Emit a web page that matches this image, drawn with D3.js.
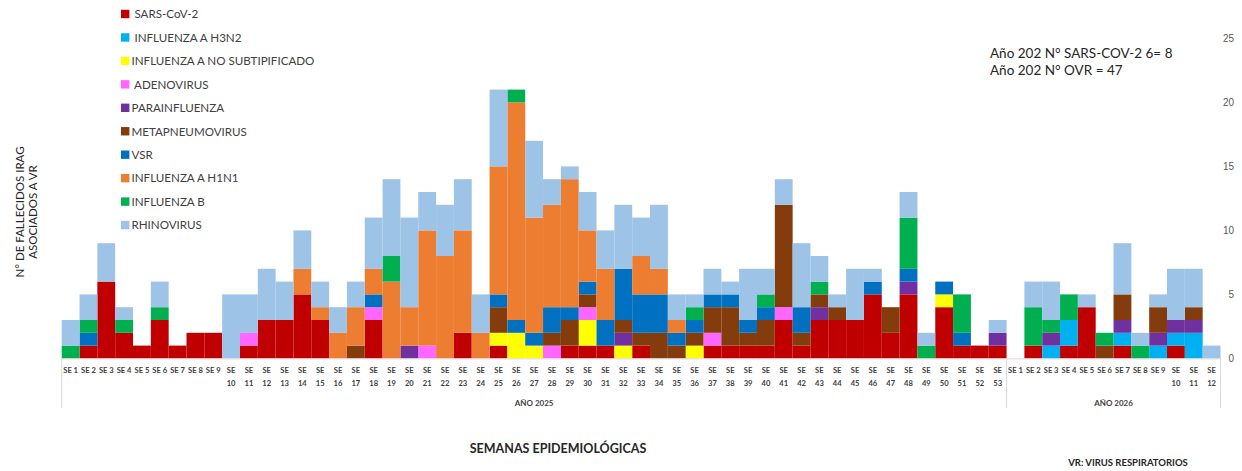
<!DOCTYPE html>
<html>
<head>
<meta charset="utf-8">
<script src="https://cdn.jsdelivr.net/npm/d3@7"></script>
<style>
  html, body { margin: 0; padding: 0; background: #fff; }
  svg { display: block; font-family: Lato, "Open Sans", "Liberation Sans", sans-serif; }
  .leg text { white-space: pre; }
</style>
</head>
<body>
<svg id="chart" width="1242" height="471"></svg>
<script>
// ---------- DATA ----------
const weeks2025 = d3.range(1, 54).map(n => "SE " + n);
const weeks2026 = d3.range(1, 13).map(n => "SE " + n);
const categories = weeks2025.concat(weeks2026);
const yearLabels = ["AÑO 2025", "AÑO 2026"];

const seriesNames = [" SARS-CoV-2", " INFLUENZA A H3N2", "INFLUENZA A NO SUBTIPIFICADO", " ADENOVIRUS",
  "PARAINFLUENZA", "METAPNEUMOVIRUS", "VSR", "INFLUENZA A H1N1", "INFLUENZA B", "RHINOVIRUS"];
const seriesColors = ["#C00000", "#00B0F0", "#FFFF00", "#FF66FF", "#7030A0", "#843C0C", "#0070C0", "#ED7D31", "#00B050", "#9DC3E6"];

const sarsCov2 = [0,1,6,2,1,3,1,2,2,0, 1,3,3,5,3,0,0,3,0,0, 0,0,2,0,1,0,0,0,1,1, 1,0,1,0,0,0,1,1,1,1, 3,1,3,3,3,5,2,5,0,4, 1,1,1,
  0,1,0,1,4,0,1,0,0,1,0,0];
const h3n2 = [0,0,0,0,0,0,0,0,0,0, 0,0,0,0,0,0,0,0,0,0, 0,0,0,0,0,0,0,0,0,0, 0,0,0,0,0,0,0,0,0,0, 0,0,0,0,0,0,0,0,0,0, 0,0,0,
  0,0,1,2,0,0,1,0,1,1,2,0];
const noSubtip = [0,0,0,0,0,0,0,0,0,0, 0,0,0,0,0,0,0,0,0,0, 0,0,0,0,1,2,1,0,0,2, 0,1,0,0,0,1,0,0,0,0, 0,0,0,0,0,0,0,0,0,1, 0,0,0,
  0,0,0,0,0,0,0,0,0,0,0,0];
const adenovirus = [0,0,0,0,0,0,0,0,0,0, 1,0,0,0,0,0,0,1,0,0, 1,0,0,0,0,0,0,1,0,1, 0,0,0,0,0,0,1,0,0,0, 1,0,0,0,0,0,0,0,0,0, 0,0,0,
  0,0,0,0,0,0,0,0,0,0,0,0];
const parainfluenza = [0,0,0,0,0,0,0,0,0,0, 0,0,0,0,0,0,0,0,0,1, 0,0,0,0,0,0,0,0,0,0, 0,1,0,0,0,0,0,0,0,0, 0,0,1,0,0,0,0,1,0,0, 0,0,1,
  0,0,1,0,0,0,1,0,1,1,1,0];
const metapneumovirus = [0,0,0,0,0,0,0,0,0,0, 0,0,0,0,0,0,1,0,0,0, 0,0,0,0,2,0,0,1,2,1, 0,1,1,2,1,1,2,3,1,2, 8,1,1,1,0,0,2,0,0,0, 0,0,0,
  0,0,0,0,0,1,2,0,2,0,1,0];
const vsr = [0,1,0,0,0,0,0,0,0,0, 0,0,0,0,0,0,0,1,0,0, 0,0,0,0,1,1,1,2,1,1, 2,4,3,3,1,1,1,1,1,1, 0,2,0,0,0,1,0,1,0,1, 1,0,0,
  0,0,0,0,0,0,0,0,0,0,0,0];
const h1n1 = [0,0,0,0,0,0,0,0,0,0, 0,0,0,2,1,2,3,2,6,3, 9,8,8,2,10,17,9,8,10,4, 4,0,3,2,1,0,0,0,0,0, 0,0,0,0,0,0,0,0,0,0, 0,0,0,
  0,0,0,0,0,0,0,0,0,0,0,0];
const influenzaB = [1,1,0,1,0,1,0,0,0,0, 0,0,0,0,0,0,0,0,2,0, 0,0,0,0,0,1,0,0,0,0, 0,0,0,0,0,1,0,0,0,1, 0,0,1,0,0,0,0,4,1,0, 3,0,0,
  0,3,1,2,0,1,0,1,0,0,0,0];
const rhinovirus = [2,2,3,1,0,2,0,0,0,5, 3,4,3,3,2,2,2,4,6,7, 3,4,4,3,6,0,6,2,1,3, 3,5,3,5,2,1,2,1,4,2, 2,5,2,1,4,1,0,2,1,0, 0,0,1,
  0,2,3,0,1,0,4,1,1,4,3,1];

const yTicks = [0, 5, 10, 15, 20, 25];
const noteLines = ["Año 202 N° SARS-COV-2 6= 8", "Año 202 N° OVR = 47"];
const yTitle = ["N° DE FALLECIDOS IRAG", "ASOCIADOS A VR"];
const xTitle = "SEMANAS EPIDEMIOLÓGICAS";
const footNote = "VR: VIRUS RESPIRATORIOS";

// ---------- BUILD TABLE ----------
const seriesValues = [sarsCov2, h3n2, noSubtip, adenovirus, parainfluenza, metapneumovirus, vsr, h1n1, influenzaB, rhinovirus];
const keys = seriesNames.map((d, i) => "s" + i);
const table = categories.map((c, i) => {
  const row = { idx: i, label: c };
  keys.forEach((k, j) => row[k] = seriesValues[j][i]);
  return row;
});

// ---------- SCALES ----------
const svg = d3.select("#chart");
const x = d3.scaleBand().domain(d3.range(categories.length)).range([61.7, 1220.5]).paddingInner(0).paddingOuter(0);
const y = d3.scaleLinear().domain([0, 25]).range([358.4, 38.4]);
const color = d3.scaleOrdinal().domain(keys).range(seriesColors);

// ---------- BARS ----------
const stacked = d3.stack().keys(keys)(table);
svg.append("g").selectAll("g").data(stacked).join("g")
  .attr("fill", d => color(d.key))
  .selectAll("rect").data(d => d.filter(p => p[1] > p[0])).join("rect")
  .attr("x", d => x(d.data.idx))
  .attr("width", x.bandwidth())
  .attr("y", d => y(d[1]))
  .attr("height", d => y(d[0]) - y(d[1]));

// ---------- X AXIS ----------
const xAxis = svg.append("g").attr("transform", `translate(0,${y(0)})`)
  .call(d3.axisBottom(x).tickSize(0).tickSizeOuter(0).tickFormat(i => categories[i]));
xAxis.select(".domain").attr("stroke", "#D9D9D9").attr("stroke-width", 1);
xAxis.selectAll(".tick text").each(function(i) {
  const t = d3.select(this);
  const lbl = categories[i];
  const num = +lbl.split(" ")[1];
  t.text(null).attr("y", 0).attr("dy", null)
    .attr("font-family", "Lato, 'Open Sans', sans-serif")
    .attr("font-size", 7.6).attr("font-weight", "bold").attr("fill", "#404040");
  if (num < 10) {
    t.append("tspan").attr("x", 0).attr("y", 15).text(lbl);
  } else {
    t.append("tspan").attr("x", 0).attr("y", 15).text("SE");
    t.append("tspan").attr("x", 0).attr("y", 27.5).text(num);
  }
});
// group separators
const sepX = [x(0), x(53), x(64) + x.bandwidth()];
svg.append("g").selectAll("line").data(sepX).join("line")
  .attr("x1", d => d).attr("x2", d => d)
  .attr("y1", y(0)).attr("y2", 408)
  .attr("stroke", "#D9D9D9").attr("stroke-width", 1);
const groupCenters = [(x(0) + x(53)) / 2, (x(53) + x(64) + x.bandwidth()) / 2];
svg.append("g").selectAll("text").data(yearLabels).join("text")
  .attr("x", (d, i) => groupCenters[i]).attr("y", 406)
  .attr("text-anchor", "middle").attr("font-size", 8).attr("font-weight", "bold").attr("fill", "#404040")
  .text(d => d);

// ---------- Y AXIS (right) ----------
const yAxis = svg.append("g").attr("transform", "translate(1222,0)")
  .call(d3.axisRight(y).tickValues(yTicks).tickSize(0).tickFormat(d3.format("d")));
yAxis.select(".domain").remove();
yAxis.selectAll(".tick text").attr("x", 12).attr("text-anchor", "end")
  .attr("font-size", 10).attr("fill", "#595959");

// ---------- LEGEND ----------
const leg = svg.append("g").attr("class", "leg");
const legItems = leg.selectAll("g").data(seriesNames).join("g")
  .attr("transform", (d, i) => `translate(121,${14 + i * 23.45})`);
legItems.append("rect").attr("x", 0).attr("y", -4.2).attr("width", 8.4).attr("height", 8.4)
  .attr("fill", (d, i) => seriesColors[i]);
legItems.append("text").attr("x", 10.5).attr("y", 4.3)
  .attr("font-size", 11.6).attr("fill", "#404040").text(d => d);

// ---------- ANNOTATION ----------
svg.append("g").selectAll("text").data(noteLines).join("text")
  .attr("x", 990).attr("y", (d, i) => 58 + i * 16.5)
  .attr("font-size", 13.5).attr("fill", "#262626").text(d => d);

// ---------- TITLES ----------
svg.append("g").selectAll("text").data(yTitle).join("text")
  .attr("transform", (d, i) => `translate(${24 + i * 13},212) rotate(-90)`)
  .attr("text-anchor", "middle").attr("font-size", 11.5).attr("fill", "#262626").text(d => d);

svg.append("text").attr("x", 558).attr("y", 453).attr("text-anchor", "middle")
  .attr("font-size", 12.5).attr("font-weight", "bold").attr("fill", "#262626").text(xTitle);

svg.append("text").attr("x", 1128).attr("y", 466).attr("text-anchor", "middle")
  .attr("font-size", 9.5).attr("font-weight", "bold").attr("fill", "#262626").text(footNote);
</script>
</body>
</html>
